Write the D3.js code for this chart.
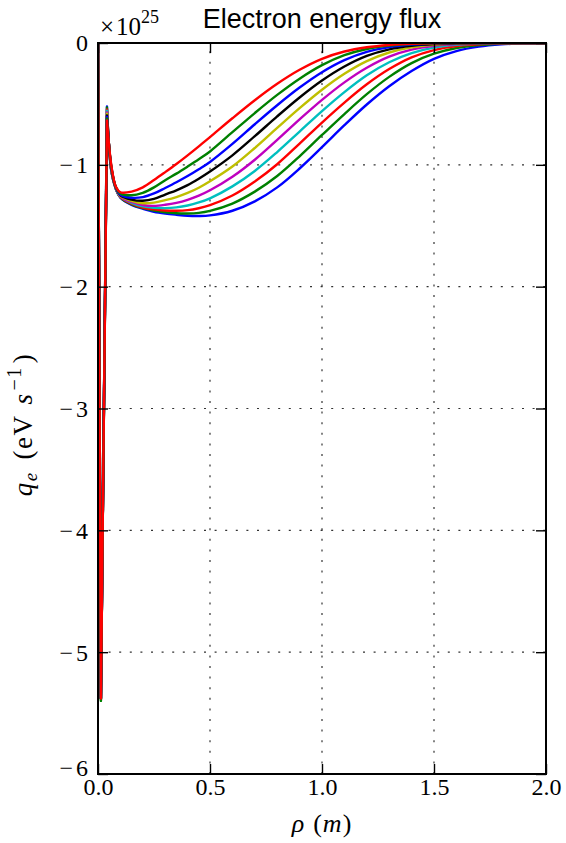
<!DOCTYPE html>
<html><head><meta charset="utf-8">
<script src="https://cdn.jsdelivr.net/npm/d3@7"></script>
<style>body{margin:0;background:#fff} svg{display:block}</style>
</head><body>
<svg id="c" width="566" height="843"></svg>
<script>
// rho (m)
const rho = [0, 0.013, 0.04, 0.06, 0.08, 0.1, 0.15, 0.2, 0.25, 0.3, 0.35, 0.4, 0.45, 0.5,
  0.6, 0.7, 0.8, 0.9, 1.0, 1.1, 1.2, 1.3, 1.4, 1.5, 1.6, 1.7, 1.8, 1.9, 2.0];
// q_e in units of 1e25 eV/s, in drawing order
const run1 = [0, -5.38, -0.52, -1.06, -1.2, -1.27, -1.33, -1.36, -1.385, -1.40, -1.41, -1.418, -1.42, -1.415,
  -1.377, -1.30, -1.185, -1.03, -0.855, -0.675, -0.505, -0.355, -0.23, -0.13, -0.066, -0.03, -0.011, -0.003, 0];
const run2 = [0, -5.4, -0.53, -1.055, -1.198, -1.267, -1.324, -1.355, -1.376, -1.389, -1.397, -1.399, -1.394, -1.378,
  -1.318, -1.22, -1.092, -0.93, -0.755, -0.583, -0.42, -0.278, -0.165, -0.088, -0.041, -0.017, -0.006, -0.001, 0];
const run3 = [0, -5.38, -0.545, -1.05, -1.196, -1.265, -1.318, -1.35, -1.366, -1.375, -1.377, -1.372, -1.356, -1.331,
  -1.252, -1.137, -0.995, -0.826, -0.653, -0.489, -0.339, -0.214, -0.118, -0.058, -0.025, -0.01, -0.003, 0, 0];
const run4 = [0, -5.38, -0.555, -1.045, -1.194, -1.262, -1.312, -1.34, -1.352, -1.355, -1.349, -1.334, -1.309, -1.275,
  -1.177, -1.05, -0.895, -0.727, -0.559, -0.403, -0.265, -0.158, -0.083, -0.038, -0.015, -0.006, -0.001, 0, 0];
const run5 = [0, -5.38, -0.57, -1.04, -1.192, -1.26, -1.305, -1.33, -1.337, -1.328, -1.312, -1.287, -1.253, -1.209,
  -1.098, -0.958, -0.795, -0.627, -0.467, -0.323, -0.203, -0.112, -0.055, -0.024, -0.009, -0.003, 0, 0, 0];
const run6 = [0, -5.38, -0.58, -1.035, -1.19, -1.255, -1.295, -1.315, -1.31, -1.29, -1.265, -1.231, -1.188, -1.135,
  -1.014, -0.862, -0.697, -0.535, -0.384, -0.253, -0.149, -0.078, -0.036, -0.015, -0.005, -0.001, 0, 0, 0];
const run7 = [0, -5.38, -0.595, -1.03, -1.188, -1.25, -1.285, -1.295, -1.28, -1.244, -1.209, -1.167, -1.114, -1.055,
  -0.922, -0.765, -0.602, -0.447, -0.308, -0.193, -0.106, -0.052, -0.023, -0.009, -0.003, 0, 0, 0, 0];
const run8 = [0, -5.38, -0.605, -1.025, -1.186, -1.245, -1.27, -1.265, -1.235, -1.19, -1.143, -1.092, -1.036, -0.976,
  -0.828, -0.667, -0.511, -0.366, -0.24, -0.141, -0.073, -0.034, -0.013, -0.005, -0.001, 0, 0, 0, 0];
const run9 = [0, -5.39, -0.62, -1.02, -1.184, -1.235, -1.25, -1.23, -1.185, -1.126, -1.072, -1.014, -0.954, -0.89,
  -0.732, -0.575, -0.426, -0.293, -0.182, -0.1, -0.049, -0.021, -0.008, -0.002, 0, 0, 0, 0, 0];
const run10 = [0, -5.38, -0.635, -1.01, -1.18, -1.225, -1.22, -1.185, -1.125, -1.06, -0.993, -0.922, -0.848, -0.772,
  -0.618, -0.47, -0.335, -0.22, -0.13, -0.07, -0.035, -0.016, -0.006, -0.002, 0, 0, 0, 0, 0];
const runs = [run1, run2, run3, run4, run5, run6, run7, run8, run9, run10];
const colors = ["#0000ff", "#008000", "#ff0000", "#00bfbf", "#bf00bf", "#bfbf00", "#000000", "#0000ff", "#008000", "#ff0000"];
const xTicks = [0, 0.5, 1.0, 1.5, 2.0];
const yTicks = [-6, -5, -4, -3, -2, -1, 0];

const svg = d3.select("#c");
const M = {l: 98, r: 546, t: 43, b: 774};
const x = d3.scaleLinear().domain([0, 2]).range([M.l, M.r]);
const y = d3.scaleLinear().domain([-6, 0]).range([M.b, M.t]);
const serif = "'Liberation Serif', 'Times New Roman', serif";

svg.append("defs").append("clipPath").attr("id", "clip")
  .append("rect").attr("x", M.l).attr("y", M.t).attr("width", M.r - M.l).attr("height", M.b - M.t);

// grid
const grid = svg.append("g").attr("stroke", "#333").attr("stroke-width", 1.2).attr("stroke-dasharray", "2,8.6");
grid.selectAll(".gx").data(xTicks.slice(1, -1)).join("line")
  .attr("x1", d => x(d)).attr("x2", d => x(d)).attr("y1", M.b).attr("y2", M.t);
grid.selectAll(".gy").data(yTicks.slice(1, -1)).join("line")
  .attr("y1", d => y(d)).attr("y2", d => y(d)).attr("x1", M.l).attr("x2", M.r);

// lines: the narrow spike drawn straight, the rest smooth
const spike = d3.line().x(d => x(d[0])).y(d => y(d[1]));
const smooth = d3.line().x(d => x(d[0])).y(d => y(d[1])).curve(d3.curveCatmullRom.alpha(0.5));
const lg = svg.append("g").attr("clip-path", "url(#clip)");
runs.forEach((r, k) => {
  const pts = r.map((v, i) => [rho[i], v]);
  const d = spike(pts.slice(0, 3)) + smooth(pts.slice(2)).replace(/^M[^A-Za-z]*/, m => "L" + m.slice(1));
  lg.append("path").attr("d", d).attr("fill", "none")
    .attr("stroke", colors[k]).attr("stroke-width", 2.4).attr("stroke-linejoin", "round");
});

// axes
const fmtY = d => d === 0 ? "0" : "\u2212" + Math.abs(d);
const ax = svg.append("g");
ax.append("g").attr("transform", `translate(0,${M.b})`)
  .call(d3.axisBottom(x).tickValues(xTicks).tickFormat(d3.format(".1f")).tickSizeInner(-10).tickSizeOuter(0).tickPadding(4));
const gl = ax.append("g").attr("transform", `translate(${M.l},0)`)
  .call(d3.axisLeft(y).tickValues(yTicks).tickFormat(fmtY).tickSizeInner(-10).tickSizeOuter(0).tickPadding(7));
ax.append("g").attr("transform", `translate(0,${M.t})`)
  .call(d3.axisTop(x).tickValues(xTicks).tickFormat("").tickSizeInner(-10).tickSizeOuter(0));
ax.append("g").attr("transform", `translate(${M.r},0)`)
  .call(d3.axisRight(y).tickValues(yTicks).tickFormat("").tickSizeInner(-10).tickSizeOuter(0));
ax.selectAll(".domain").remove();
ax.selectAll(".tick line").attr("stroke", "#000").attr("stroke-width", 1.4);
ax.selectAll(".tick text").attr("font-family", serif).attr("font-size", 24).attr("fill", "#000");
gl.selectAll(".tick text").attr("dy", d => d === -6 ? "0.08em" : "0.33em").attr("letter-spacing", 3);

svg.append("rect").attr("x", M.l).attr("y", M.t).attr("width", M.r - M.l).attr("height", M.b - M.t)
  .attr("fill", "none").attr("stroke", "#000").attr("stroke-width", 2);

// offset text
const off = svg.append("text").attr("x", 100).attr("y", 35).attr("font-family", serif).attr("font-size", 25);
off.append("tspan").text("×");
off.append("tspan").attr("dx", 2).text("10");
off.append("tspan").attr("dy", -12).attr("font-size", 18).text("25");

// title
svg.append("text").attr("x", (M.l + M.r) / 2).attr("y", 28).attr("text-anchor", "middle")
  .attr("font-family", "'Liberation Sans', Arial, sans-serif").attr("font-size", 27).text("Electron energy flux");

// x label
const xl = svg.append("text").attr("x", (M.l + M.r) / 2).attr("y", 832).attr("text-anchor", "middle")
  .attr("font-family", serif).attr("font-size", 26).attr("letter-spacing", 1);
xl.append("tspan").attr("font-style", "italic").text("ρ");
xl.append("tspan").attr("dx", 8).text("(");
xl.append("tspan").attr("font-style", "italic").text("m");
xl.append("tspan").text(")");

// y label
const yl = svg.append("text").attr("transform", `translate(32,${(M.t + M.b) / 2 + 16}) rotate(-90)`)
  .attr("text-anchor", "middle").attr("font-family", serif).attr("font-size", 27).attr("letter-spacing", 1.5);
yl.append("tspan").attr("font-style", "italic").text("q");
yl.append("tspan").attr("font-style", "italic").attr("font-size", 19).attr("dy", 5).text("e");
yl.append("tspan").attr("dy", -5).attr("dx", 12).text("(eV");
yl.append("tspan").attr("dx", 10).attr("font-style", "italic").text("s");
yl.append("tspan").attr("font-size", 20).attr("dy", -11).attr("dx", 2).text("\u22121");
yl.append("tspan").attr("dy", 11).attr("dx", 3).text(")");
</script>
</body></html>
